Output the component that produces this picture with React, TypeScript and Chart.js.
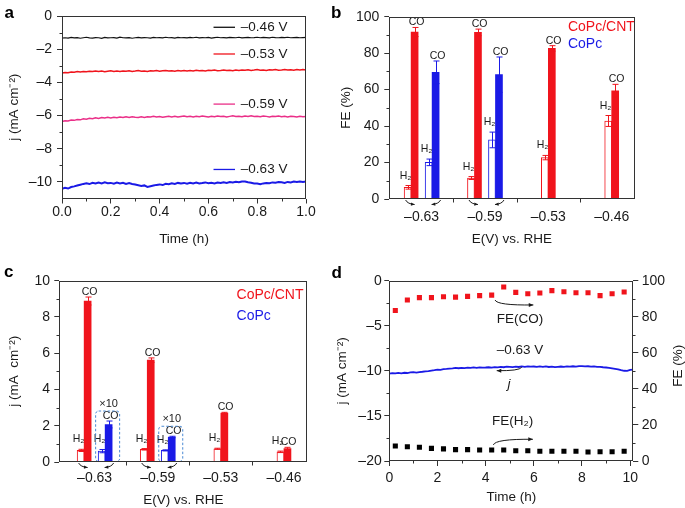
import React, { useEffect, useRef } from 'react';
import { Chart, registerables } from 'chart.js';

Chart.register(...registerables);

const FONT = '"Liberation Sans", Arial, Helvetica, sans-serif';
const INK = '#1a1a1a';
const FRAME = '#333333';
const RED = '#f0141c';
const BLUE = '#1a1ae6';
const PINK = '#ea2f88';
const BOXBLUE = '#4a8ad4';

// ---------- Panel a: j vs time at four potentials (evenly sampled over 0-1 h) ----------
const labelsA = ['–0.46 V', '–0.53 V', '–0.59 V', '–0.63 V'];
const jAt046 = [
  -1.34, -1.31, -1.33, -1.29, -1.32, -1.30, -1.34, -1.31, -1.28, -1.32,
  -1.33, -1.30, -1.31, -1.35, -1.29, -1.32, -1.31, -1.30, -1.33, -1.28,
  -1.31, -1.32, -1.30, -1.34, -1.31, -1.29, -1.32, -1.30, -1.31, -1.33,
  -1.29, -1.31, -1.30, -1.32, -1.28, -1.31, -1.30, -1.33, -1.29, -1.31,
  -1.30, -1.32, -1.29, -1.31, -1.28, -1.32, -1.30, -1.31, -1.29, -1.33,
  -1.30, -1.28, -1.31, -1.30, -1.32, -1.29, -1.30, -1.31, -1.28, -1.32,
  -1.30, -1.29, -1.31, -1.30, -1.28, -1.31, -1.29, -1.30, -1.32, -1.28,
  -1.30, -1.31, -1.29, -1.30, -1.28, -1.31, -1.30, -1.29, -1.31, -1.30,
  -1.29,
];
const jAt053 = [
  -3.44, -3.40, -3.42, -3.37, -3.39, -3.35, -3.38, -3.34, -3.36, -3.33,
  -3.35, -3.31, -3.34, -3.32, -3.36, -3.33, -3.30, -3.34, -3.32, -3.35,
  -3.31, -3.33, -3.30, -3.34, -3.32, -3.29, -3.33, -3.31, -3.34, -3.30,
  -3.32, -3.29, -3.33, -3.30, -3.28, -3.32, -3.30, -3.33, -3.29, -3.31,
  -3.28, -3.32, -3.29, -3.31, -3.27, -3.30, -3.28, -3.31, -3.27, -3.29,
  -3.26, -3.30, -3.28, -3.25, -3.29, -3.27, -3.30, -3.26, -3.28, -3.25,
  -3.27, -3.24, -3.28, -3.26, -3.23, -3.27, -3.25, -3.28, -3.24, -3.26,
  -3.23, -3.27, -3.25, -3.22, -3.26, -3.24, -3.27, -3.23, -3.25, -3.22,
  -3.26,
];
const jAt059 = [
  -6.36, -6.31, -6.33, -6.27, -6.29, -6.24, -6.26, -6.20, -6.22, -6.17,
  -6.19, -6.14, -6.17, -6.12, -6.15, -6.11, -6.14, -6.10, -6.13, -6.09,
  -6.12, -6.08, -6.11, -6.07, -6.10, -6.12, -6.08, -6.11, -6.07, -6.09,
  -6.05, -6.09, -6.06, -6.10, -6.07, -6.04, -6.08, -6.05, -6.09, -6.06,
  -6.03, -6.07, -6.05, -6.08, -6.04, -6.07, -6.03, -6.06, -6.09, -6.05,
  -6.07, -6.03, -6.06, -6.04, -6.08, -6.05, -6.02, -6.06, -6.04, -6.07,
  -6.03, -6.05, -6.02, -6.06, -6.04, -6.07, -6.03, -6.05, -6.08, -6.04,
  -6.06, -6.03, -6.07, -6.05, -6.08, -6.04, -6.06, -6.09, -6.05, -6.07,
  -6.06,
];
const jAt063 = [
  -10.42, -10.36, -10.40, -10.31, -10.27, -10.22, -10.17, -10.12, -10.08, -10.13,
  -10.05, -10.10, -10.04, -10.09, -10.03, -10.08, -10.06, -10.11, -10.04, -10.09,
  -10.05, -10.12, -10.07, -10.13, -10.16, -10.20, -10.24, -10.21, -10.30, -10.26,
  -10.22, -10.18, -10.15, -10.19, -10.11, -10.14, -10.08, -10.12, -10.06, -10.10,
  -10.06, -10.11, -10.05, -10.09, -10.04, -10.10, -10.07, -10.03, -10.08, -10.05,
  -10.09, -10.04, -10.07, -10.02, -10.06, -10.01, -10.03, -9.99, -10.02, -9.97,
  -9.98, -10.02, -10.05, -10.09, -10.10, -10.14, -10.09, -10.06, -10.08, -10.03,
  -10.05, -10.01, -10.02, -10.06, -10.00, -10.03, -9.98, -10.01, -9.97, -10.00,
  -9.98,
];

// ---------- Panels b, c: potentials (V vs. RHE) ----------
const potentials = ['–0.63', '–0.59', '–0.53', '–0.46'];

// b: Faradaic efficiency (%)
const feCntH2 = [6.4, 11.5, 22.7, 42.8];
const feCntH2Err = [1.0, 0.8, 1.2, 3.0];
const feCntCO = [91.6, 91.4, 82.6, 59.4];
const feCntCOErr = [2.5, 1.8, 1.5, 3.5];
const fePcH2 = [20.1, 32.4, null, null];
const fePcH2Err = [1.8, 4.3, 0, 0];
const fePcCO = [69.5, 68.2, null, null];
const fePcCOErr = [6.2, 9.7, 0, 0];

// c: partial current density (mA cm^-2), CoPc values shown x10
const jCntH2 = [0.64, 0.70, 0.73, 0.56];
const jCntH2Err = [0.06, 0.04, 0.03, 0.04];
const jCntCO = [8.88, 5.62, 2.70, 0.74];
const jCntCOErr = [0.22, 0.12, 0.04, 0.07];
const jPcH2 = [0.60, 0.64, null, null];
const jPcH2Err = [0.09, 0.03, 0, 0];
const jPcCO = [2.07, 1.38, null, null];
const jPcCOErr = [0.19, 0.04, 0, 0];

// ---------- Panel d: 10 h stability at -0.63 V ----------
const sampleStepD = 0.125; // h
const jD = [
  -10.30, -10.26, -10.29, -10.23, -10.27, -10.21, -10.24, -10.18, -10.15,
  -10.19, -10.13, -10.10, -10.06, -10.02, -9.97, -9.92, -9.86,
  -9.89, -9.82, -9.79, -9.75, -9.72, -9.68, -9.71, -9.66,
  -9.69, -9.64, -9.67, -9.62, -9.66, -9.61, -9.65, -9.63,
  -9.60, -9.64, -9.58, -9.61, -9.56, -9.60, -9.54, -9.55,
  -9.58, -9.53, -9.57, -9.51, -9.55, -9.50, -9.54, -9.52,
  -9.56, -9.51, -9.55, -9.50, -9.57, -9.53, -9.58, -9.55,
  -9.52, -9.56, -9.50, -9.54, -9.49, -9.53, -9.47, -9.48,
  -9.51, -9.49, -9.53, -9.51, -9.56, -9.55, -9.60, -9.63,
  -9.66, -9.72, -9.78, -9.84, -9.92, -9.99, -10.01, -9.90, -9.86,
];
const feTimes = [0.25, 0.75, 1.25, 1.75, 2.25, 2.75, 3.25, 3.75, 4.25, 4.75, 5.25, 5.75, 6.25, 6.75, 7.25, 7.75, 8.25, 8.75, 9.25, 9.75];
const feCOd = [83.5, 89.3, 90.6, 90.6, 91.1, 90.9, 91.3, 91.7, 92.0, 96.5, 93.5, 92.8, 93.2, 94.5, 93.9, 93.3, 93.3, 91.7, 92.8, 93.7];
const feH2d = [8.3, 7.9, 7.6, 7.0, 6.7, 6.3, 6.3, 6.1, 6.1, 6.1, 5.7, 5.7, 5.4, 5.4, 5.4, 5.4, 5.0, 5.1, 5.1, 5.4];

// ---------- helpers ----------
const tickFont = { family: FONT, size: 14 };
const titleFont = { family: FONT, size: 13.5 };
const fmtNeg = (v: any) => (Number(v) < 0 ? '–' + String(Math.abs(Number(v))) : String(v));

const common: any = {
  responsive: false,
  maintainAspectRatio: false,
  animation: false,
  devicePixelRatio: 1,
  events: [],
  plugins: { legend: { display: false }, tooltip: { enabled: false } },
};

const majorGrid = (tickColor: string = FRAME) => ({
  display: true,
  drawOnChartArea: false,
  drawTicks: true,
  tickLength: 5,
  color: FRAME,
  tickColor,
  lineWidth: 1,
  offset: false,
});

type TickSpec = { scale: string; values: number[]; len: number };

function framePlugin(specs: TickSpec[]) {
  return {
    id: 'frameMinor',
    afterDraw(chart: any) {
      const { ctx, chartArea: a } = chart;
      const L = Math.round(a.left) + 0.5;
      const R = Math.round(a.right) - 0.5;
      const T = Math.round(a.top) + 0.5;
      const B = Math.round(a.bottom) - 0.5;
      ctx.save();
      ctx.strokeStyle = FRAME;
      ctx.lineWidth = 1;
      ctx.strokeRect(L, T, R - L, B - T);
      for (const s of specs) {
        const sc = chart.scales[s.scale];
        for (const v of s.values) {
          const p = Math.round(sc.getPixelForValue(v)) + 0.5;
          ctx.beginPath();
          if (sc.isHorizontal()) {
            ctx.moveTo(p, B);
            ctx.lineTo(p, B + s.len);
          } else if (sc.position === 'right') {
            ctx.moveTo(R, p);
            ctx.lineTo(R + s.len, p);
          } else {
            ctx.moveTo(L, p);
            ctx.lineTo(L - s.len, p);
          }
          ctx.stroke();
        }
      }
      ctx.restore();
    },
  };
}

function curvedArrow(ctx: any, x0: number, y0: number, cx: number, cy: number, x1: number, y1: number, head: number) {
  ctx.beginPath();
  ctx.moveTo(x0, y0);
  ctx.quadraticCurveTo(cx, cy, x1, y1);
  ctx.stroke();
  const ang = Math.atan2(y1 - cy, x1 - cx);
  ctx.beginPath();
  ctx.moveTo(x1, y1);
  ctx.lineTo(x1 - head * Math.cos(ang - 0.42), y1 - head * Math.sin(ang - 0.42));
  ctx.lineTo(x1 - head * Math.cos(ang + 0.42), y1 - head * Math.sin(ang + 0.42));
  ctx.closePath();
  ctx.fill();
}

type Note = {
  kind: 'text' | 'line' | 'arrow';
  x?: number; y?: number; text?: string; color?: string; font?: string; align?: string;
  x2?: number; y2?: number; width?: number;
  pts?: number[][];
  xAxis?: string; yAxis?: string;
};

function notesPlugin(id: string, notes: Note[]) {
  return {
    id,
    afterDatasetsDraw(chart: any) {
      const ctx = chart.ctx;
      ctx.save();
      for (const n of notes) {
        const xs = chart.scales[n.xAxis || 'x'];
        const ys = chart.scales[n.yAxis || 'y'];
        const px = (v: number) => xs.getPixelForValue(v);
        const py = (v: number) => ys.getPixelForValue(v);
        ctx.strokeStyle = n.color || INK;
        ctx.fillStyle = n.color || INK;
        if (n.kind === 'text') {
          ctx.font = n.font || `13px ${FONT}`;
          ctx.textAlign = n.align || 'center';
          ctx.textBaseline = 'middle';
          ctx.fillText(n.text, px(n.x!), py(n.y!));
        } else if (n.kind === 'line') {
          ctx.lineWidth = n.width || 1.2;
          ctx.beginPath();
          ctx.moveTo(px(n.x!), py(n.y!));
          ctx.lineTo(px(n.x2!), py(n.y2!));
          ctx.stroke();
        } else if (n.kind === 'arrow') {
          const p = n.pts!;
          ctx.lineWidth = 1;
          curvedArrow(ctx, px(p[0][0]), py(p[0][1]), px(p[1][0]), py(p[1][1]), px(p[2][0]), py(p[2][1]), 5);
        }
      }
      ctx.restore();
    },
  };
}

function barDecoPlugin() {
  return {
    id: 'barDeco',
    afterDatasetsDraw(chart: any) {
      const ctx = chart.ctx;
      const ys = chart.scales.y;
      ctx.save();
      chart.data.datasets.forEach((ds: any, i: number) => {
        if (!ds.errors) return;
        const meta = chart.getDatasetMeta(i);
        meta.data.forEach((bar: any, j: number) => {
          const v = ds.data[j].y;
          if (v == null) return;
          const e = ds.errors[j];
          const yt = ys.getPixelForValue(v + e);
          const yb = ys.getPixelForValue(v - e);
          const x = Math.round(bar.x) + 0.5;
          ctx.strokeStyle = ds.borderColor;
          ctx.lineWidth = 1;
          ctx.beginPath();
          ctx.moveTo(x, yb);
          ctx.lineTo(x, yt);
          ctx.moveTo(x - 3, yt);
          ctx.lineTo(x + 3, yt);
          ctx.moveTo(x - 3, yb);
          ctx.lineTo(x + 3, yb);
          ctx.stroke();
          ctx.fillStyle = INK;
          ctx.font = `10.5px ${FONT}`;
          ctx.textAlign = 'center';
          ctx.textBaseline = 'alphabetic';
          ctx.fillText(ds.tag, x + ds.tagDx, yt - ds.tagDy);
        });
      });
      ctx.restore();
    },
  };
}

function belowArrowsPlugin(cats: number[]) {
  return {
    id: 'belowArrows',
    afterDraw(chart: any) {
      const { ctx, chartArea } = chart;
      const xs = chart.scales.x;
      const b = chartArea.bottom;
      ctx.save();
      ctx.strokeStyle = INK;
      ctx.fillStyle = INK;
      ctx.lineWidth = 1;
      for (const c of cats) {
        const cx = xs.getPixelForValue(c);
        curvedArrow(ctx, cx - 16, b + 1, cx - 14, b + 5, cx - 7, b + 5.5, 4);
        curvedArrow(ctx, cx + 19, b + 1, cx + 17, b + 5, cx + 10, b + 5.5, 4);
      }
      ctx.restore();
    },
  };
}

function boxPlugin(cats: number[]) {
  return {
    id: 'x10boxes',
    afterDatasetsDraw(chart: any) {
      const { ctx, chartArea } = chart;
      const ys = chart.scales.y;
      const mH = chart.getDatasetMeta(3);
      const mC = chart.getDatasetMeta(4);
      const dsC: any = chart.data.datasets[4];
      ctx.save();
      for (const j of cats) {
        const bh = mH.data[j];
        const bc = mC.data[j];
        const left = bh.x - bh.width / 2 - 2.5;
        const right = bc.x + bc.width / 2 + 7.5;
        const top = ys.getPixelForValue(dsC.data[j].y + dsC.errors[j]) - 10;
        const bottom = chartArea.bottom - 0.5;
        ctx.setLineDash([2.5, 2]);
        ctx.strokeStyle = BOXBLUE;
        ctx.lineWidth = 1;
        ctx.beginPath();
        if (ctx.roundRect) ctx.roundRect(left, top, right - left, bottom - top, 3);
        else ctx.rect(left, top, right - left, bottom - top);
        ctx.stroke();
        ctx.setLineDash([]);
        ctx.fillStyle = INK;
        ctx.font = `11px ${FONT}`;
        ctx.textAlign = 'center';
        ctx.textBaseline = 'alphabetic';
        ctx.fillText('×10', (left + right) / 2 + 1, top - 4);
      }
      ctx.restore();
    },
  };
}

const rightTitlePlugin = {
  id: 'rightTitle',
  afterDraw(chart: any) {
    const { ctx, chartArea: a } = chart;
    ctx.save();
    ctx.translate(a.right + 45, (a.top + a.bottom) / 2 - 5);
    ctx.rotate(-Math.PI / 2);
    ctx.font = `13.5px ${FONT}`;
    ctx.fillStyle = INK;
    ctx.textAlign = 'center';
    ctx.textBaseline = 'middle';
    ctx.fillText('FE (%)', 0, 0);
    ctx.restore();
  },
};

// ---------- configs ----------
function configA() {
  const mk = (vals: number[], color: string, w: number) => ({
    data: vals.map((y, i) => ({ x: i / (vals.length - 1), y })),
    borderColor: color,
    borderWidth: w,
    pointRadius: 0,
    tension: 0,
    fill: false,
  });
  const colors = ['#111111', RED, PINK, BLUE];
  const legendY = [-0.68, -2.29, -5.31, -9.25];
  const notes: Note[] = [];
  labelsA.forEach((t, i) => {
    notes.push({ kind: 'line', x: 0.621, y: legendY[i], x2: 0.709, y2: legendY[i], color: colors[i], width: 1.3 });
    notes.push({ kind: 'text', x: 0.733, y: legendY[i], text: t, align: 'left', color: INK, font: `13.5px ${FONT}` });
  });
  return {
    type: 'line',
    data: {
      datasets: [mk(jAt046, colors[0], 1.2), mk(jAt053, colors[1], 1.5), mk(jAt059, colors[2], 1.5), mk(jAt063, colors[3], 2)],
    },
    options: {
      ...common,
      layout: { padding: { left: 0, top: 16, right: 34, bottom: 0 } },
      scales: {
        x: {
          type: 'linear', min: 0, max: 1,
          afterFit: (s: any) => { s.height = 55.5; },
          grid: majorGrid(), border: { display: false },
          ticks: { stepSize: 0.2, includeBounds: false, maxRotation: 0, callback: (v: any) => Number(v).toFixed(1), font: tickFont, color: INK, padding: 0 },
          title: { display: true, text: 'Time (h)', font: titleFont, color: INK, padding: { top: 0, bottom: 6.5 } },
        },
        y: {
          type: 'linear', min: -11, max: 0,
          afterFit: (s: any) => { s.width = 62; },
          grid: majorGrid(), border: { display: false },
          ticks: { stepSize: 2, includeBounds: false, callback: fmtNeg, font: tickFont, color: INK, padding: 5 },
          title: { display: true, text: 'j (mA cm⁻²)', font: titleFont, color: INK, padding: { top: 6, bottom: 0 } },
        },
      },
    },
    plugins: [
      framePlugin([
        { scale: 'x', values: [0.1, 0.3, 0.5, 0.7, 0.9], len: 3 },
        { scale: 'y', values: [-9, -7, -5, -3, -1], len: 3 },
      ]),
      notesPlugin('legendA', notes),
    ],
  };
}

type BarSpec = {
  cntH2: (number | null)[]; cntH2Err: number[]; cntCO: (number | null)[]; cntCOErr: number[];
  pcH2: (number | null)[]; pcH2Err: number[]; pcCO: (number | null)[]; pcCOErr: number[];
  yMax: number; yStep: number; yMinor: number[]; yTitle: string;
  xMin: number; xMax: number;
  padTop: number; padRight: number; yAxisW: number; xAxisH: number;
  xTickPad: number; yTickPad: number; xTitlePad: number; yTitlePad: number;
  legX: number; legY1: number; legY2: number;
  boxes: boolean;
};

function makeBar(p: BarSpec) {
  const pts = (vals: (number | null)[]) => vals.map((y, i) => ({ x: i + 1, y }));
  const gapVals = p.pcCO.map((v) => (v == null ? null : 0));
  const datasets: any[] = [
    { label: 'CoPc/CNT H₂', data: pts(p.cntH2), backgroundColor: '#ffffff', borderColor: RED, borderWidth: 1, errors: p.cntH2Err, tag: 'H₂', tagDx: -3, tagDy: 7 },
    { label: 'CoPc/CNT CO', data: pts(p.cntCO), backgroundColor: RED, borderColor: RED, borderWidth: 0, errors: p.cntCOErr, tag: 'CO', tagDx: 1, tagDy: 2 },
    { label: 'gap', data: pts(gapVals), backgroundColor: 'rgba(0,0,0,0)', borderColor: 'rgba(0,0,0,0)', borderWidth: 0 },
    { label: 'CoPc H₂', data: pts(p.pcH2), backgroundColor: '#ffffff', borderColor: BLUE, borderWidth: 1, errors: p.pcH2Err, tag: 'H₂', tagDx: -3, tagDy: 7 },
    { label: 'CoPc CO', data: pts(p.pcCO), backgroundColor: BLUE, borderColor: BLUE, borderWidth: 0, errors: p.pcCOErr, tag: 'CO', tagDx: 1, tagDy: 2 },
  ];
  const plugins: any[] = [
    barDecoPlugin(),
    framePlugin([
      { scale: 'y', values: p.yMinor, len: 3 },
      { scale: 'x', values: [1.5, 2.5, 3.5], len: 4 },
    ]),
    belowArrowsPlugin([1, 2]),
    notesPlugin('legendBar', [
      { kind: 'text', x: p.legX, y: p.legY1, text: 'CoPc/CNT', align: 'left', color: RED, font: `14px ${FONT}` },
      { kind: 'text', x: p.legX, y: p.legY2, text: 'CoPc', align: 'left', color: BLUE, font: `14px ${FONT}` },
    ]),
  ];
  if (p.boxes) plugins.push(boxPlugin([0, 1]));
  return {
    type: 'bar',
    data: { datasets },
    options: {
      ...common,
      datasets: { bar: { barThickness: 7, skipNull: true, grouped: true } },
      layout: { padding: { left: 0, top: p.padTop, right: p.padRight, bottom: 0 } },
      scales: {
        x: {
          type: 'linear', min: p.xMin, max: p.xMax, offset: false,
          afterFit: (s: any) => { s.height = p.xAxisH; },
          grid: majorGrid('rgba(0,0,0,0)'), border: { display: false },
          ticks: {
            stepSize: 1, includeBounds: false, autoSkip: false, maxRotation: 0,
            callback: (v: any) => potentials[Math.round(Number(v)) - 1] ?? '',
            font: tickFont, color: INK, padding: p.xTickPad,
          },
          title: { display: true, text: 'E(V) vs. RHE', font: titleFont, color: INK, padding: { top: 0, bottom: p.xTitlePad } },
        },
        y: {
          type: 'linear', min: 0, max: p.yMax,
          afterFit: (s: any) => { s.width = p.yAxisW; },
          grid: majorGrid(), border: { display: false },
          ticks: { stepSize: p.yStep, includeBounds: false, font: tickFont, color: INK, padding: p.yTickPad },
          title: { display: true, text: p.yTitle, font: titleFont, color: INK, padding: { top: p.yTitlePad, bottom: 0 } },
        },
      },
    },
    plugins,
  };
}

function configB() {
  return makeBar({
    cntH2: feCntH2, cntH2Err: feCntH2Err, cntCO: feCntCO, cntCOErr: feCntCOErr,
    pcH2: fePcH2, pcH2Err: fePcH2Err, pcCO: fePcCO, pcCOErr: fePcCOErr,
    yMax: 100, yStep: 20, yMinor: [10, 30, 50, 70, 90], yTitle: 'FE (%)',
    xMin: 0.49, xMax: 4.36,
    padTop: 16.7, padRight: 50.5, yAxisW: 59.3, xAxisH: 55,
    xTickPad: 4.5, yTickPad: 5, xTitlePad: 6.5, yTitlePad: 8,
    legX: 3.31, legY1: 94.5, legY2: 84.9,
    boxes: false,
  });
}

function configC() {
  return makeBar({
    cntH2: jCntH2, cntH2Err: jCntH2Err, cntCO: jCntCO, cntCOErr: jCntCOErr,
    pcH2: jPcH2, pcH2Err: jPcH2Err, pcCO: jPcCO, pcCOErr: jPcCOErr,
    yMax: 10, yStep: 2, yMinor: [1, 3, 5, 7, 9], yTitle: 'j (mA  cm⁻²)',
    xMin: 0.44, xMax: 4.37,
    padTop: 26.7, padRight: 32.7, yAxisW: 59.3, xAxisH: 46,
    xTickPad: 2.5, yTickPad: 4.3, xTitlePad: 0, yTitlePad: 6,
    legX: 3.25, legY1: 9.21, legY2: 8.05,
    boxes: true,
  });
}

function configD() {
  const notes: Note[] = [
    { kind: 'arrow', pts: [[4.39, -2.14], [4.47, -2.75], [5.98, -2.69]], color: INK },
    { kind: 'text', x: 5.43, y: -4.28, text: 'FE(CO)', font: `13.5px ${FONT}` },
    { kind: 'text', x: 5.43, y: -7.69, text: '–0.63 V', font: `13.5px ${FONT}` },
    { kind: 'arrow', pts: [[5.50, -9.60], [5.39, -10.02], [4.46, -9.98]], color: INK },
    { kind: 'text', x: 4.97, y: -11.46, text: 'j', font: `italic 13.5px ${FONT}` },
    { kind: 'text', x: 5.12, y: -15.64, text: 'FE(H₂)', font: `13.5px ${FONT}` },
    { kind: 'arrow', pts: [[4.32, -18.22], [4.39, -17.55], [5.96, -17.59]], color: INK },
  ];
  return {
    type: 'line',
    data: {
      datasets: [
        { label: 'j', data: jD.map((y, i) => ({ x: i * sampleStepD, y })), yAxisID: 'y', borderColor: BLUE, borderWidth: 1.8, pointRadius: 0, tension: 0, fill: false },
        { label: 'FE(CO)', data: feTimes.map((x, i) => ({ x, y: feCOd[i] })), yAxisID: 'y1', showLine: false, pointStyle: 'rect', pointRadius: 3.6, pointBorderWidth: 0, backgroundColor: RED, borderColor: RED },
        { label: 'FE(H₂)', data: feTimes.map((x, i) => ({ x, y: feH2d[i] })), yAxisID: 'y1', showLine: false, pointStyle: 'rect', pointRadius: 3.6, pointBorderWidth: 0, backgroundColor: '#000000', borderColor: '#000000' },
      ],
    },
    options: {
      ...common,
      layout: { padding: { left: 0, top: 26.7, right: 0, bottom: 0 } },
      scales: {
        x: {
          type: 'linear', min: 0, max: 10.13,
          afterFit: (s: any) => { s.height = 47; },
          grid: majorGrid(), border: { display: false },
          ticks: { stepSize: 2, includeBounds: false, maxRotation: 0, font: tickFont, color: INK, padding: 3.5 },
          title: { display: true, text: 'Time (h)', font: titleFont, color: INK, padding: { top: 0, bottom: 2.3 } },
        },
        y: {
          type: 'linear', position: 'left', min: -20, max: 0,
          afterFit: (s: any) => { s.width = 59.3; },
          grid: majorGrid(), border: { display: false },
          ticks: { stepSize: 5, includeBounds: false, callback: fmtNeg, font: tickFont, color: INK, padding: 2.6 },
          title: { display: true, text: 'j (mA cm⁻²)', font: titleFont, color: INK, padding: { top: 4.5, bottom: 0 } },
        },
        y1: {
          type: 'linear', position: 'right', min: 0, max: 100,
          afterFit: (s: any) => { s.width = 51.7; },
          grid: majorGrid(), border: { display: false },
          ticks: { stepSize: 20, includeBounds: false, font: tickFont, color: INK, padding: 3.4 },
          title: { display: false },
        },
      },
    },
    plugins: [
      framePlugin([
        { scale: 'x', values: [1, 3, 5, 7, 9], len: 3 },
        { scale: 'y', values: [-17.5, -12.5, -7.5, -2.5], len: 3 },
        { scale: 'y1', values: [10, 30, 50, 70, 90], len: 3 },
      ]),
      notesPlugin('notesD', notes),
      rightTitlePlugin,
    ],
  };
}

function ChartCanvas(props: { x: number; y: number; w: number; h: number; build: () => any }) {
  const ref = useRef<HTMLCanvasElement | null>(null);
  useEffect(() => {
    if (!ref.current) return;
    const chart = new Chart(ref.current, props.build());
    return () => chart.destroy();
  }, []);
  return (
    <div style={{ position: 'absolute', left: props.x, top: props.y, width: props.w, height: props.h }}>
      <canvas ref={ref} width={props.w} height={props.h} style={{ display: 'block', width: props.w, height: props.h }} />
    </div>
  );
}

function PanelLetter(props: { t: string; x: number; y: number }) {
  return (
    <div
      style={{
        position: 'absolute', left: props.x, top: props.y, fontFamily: FONT, fontWeight: 'bold',
        fontSize: 17, lineHeight: '17px', color: '#000',
      }}
    >
      {props.t}
    </div>
  );
}

export default function App() {
  return (
    <div style={{ position: 'fixed', left: 0, top: 0, width: 685, height: 508, background: '#ffffff', overflow: 'hidden' }}>
      <ChartCanvas x={0} y={0} w={340} h={254} build={configA} />
      <ChartCanvas x={330} y={0} w={355} h={254} build={configB} />
      <ChartCanvas x={0} y={254} w={340} h={254} build={configC} />
      <ChartCanvas x={330} y={254} w={355} h={254} build={configD} />
      <PanelLetter t="a" x={4.5} y={4} />
      <PanelLetter t="b" x={331} y={4} />
      <PanelLetter t="c" x={4} y={262.6} />
      <PanelLetter t="d" x={331.5} y={263.6} />
    </div>
  );
}
